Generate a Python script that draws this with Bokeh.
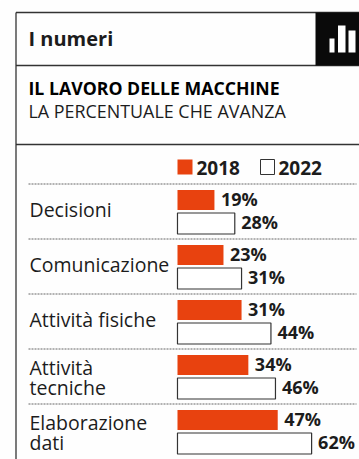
from bokeh.plotting import figure
from bokeh.models import Range1d, ColumnDataSource
from bokeh.core.properties import value
from bokeh.embed import file_html
from bokeh.resources import INLINE

categories = ["Decisioni", "Comunicazione", "Attività fisiche", "Attività\ntecniche", "Elaborazione\ndati"]
values_2018 = [19, 23, 31, 34, 47]
values_2022 = [28, 31, 44, 46, 62]
series_names = ["2018", "2022"]

FONT = "Open Sans"
INK = "#1c1c1c"
RED = "#e8420f"

W, H = 359, 459
ROW_TOP = 183.5
ROW_H = 55
BAR_BASE = 2.65
PX_PER_PCT = 2.26
ZERO_PX = 171

p = figure(width=W, height=H, x_range=Range1d(0, W), y_range=Range1d(H, 0),
           output_backend="svg", toolbar_location=None, min_border=0,
           x_axis_location=None, y_axis_location=None, outline_line_color=None,
           background_fill_color="#fefefe", border_fill_color="#fefefe")
p.grid.visible = False
p.extra_x_ranges["pct"] = Range1d(-ZERO_PX / PX_PER_PCT, (W - ZERO_PX) / PX_PER_PCT)

# Frame and header rules
p.segment([15.5, 15.5, 15.5, 15.5], [12, 65, 144, 12], [W, W, W, 15.5], [12, 65, 144, H],
          line_color="#333333", line_width=1.3)

# Black header tab with the small bar icon
p.quad(left=[315], right=[W], top=[12], bottom=[65], fill_color="#0a0a0a", line_color=None)
p.quad(left=[329, 337.5, 348], right=[334, 345, 355], top=[38, 25, 30], bottom=[52, 52, 52],
       fill_color="white", line_color=None)


def label(x, y, s, size, style="normal", color=INK, range_name=None, x_offset=0):
    kw = {"x_range_name": range_name} if range_name else {}
    p.text([x], [y], text=[s], text_font=value(FONT), text_font_size=size,
           text_font_style=style, text_color=color, text_baseline="middle",
           text_align="left", x_offset=x_offset, **kw)


label(28, 38, "I numeri", "20px", "bold")
label(28, 87, "IL LAVORO DELLE MACCHINE", "17.7px", "bold", "#000000")
label(28, 110, "LA PERCENTUALE CHE AVANZA", "17.9px")

# Legend
p.quad(left=[177], right=[192], top=[159], bottom=[174], fill_color=RED, line_color=None)
p.quad(left=[260], right=[274], top=[159], bottom=[174], fill_color="white", line_color="#333333", line_width=1)
label(196, 167, series_names[0], "19px", "bold")
label(278, 167, series_names[1], "19px", "bold")

# Dotted row separators
n = len(categories)
tops = [ROW_TOP + i * ROW_H for i in range(n)]
p.segment([28] * n, tops, [356] * n, tops, line_color="#666666", line_width=1, line_dash="2 1")

src = ColumnDataSource(dict(
    base=[BAR_BASE] * n,
    v18=values_2018,
    v22=values_2022,
    t18=[t + 6 for t in tops],
    b18=[t + 26 for t in tops],
    t22=[t + 29 for t in tops],
    b22=[t + 50 for t in tops],
    l18=[f"{v}%" for v in values_2018],
    l22=[f"{v}%" for v in values_2022],
    y18=[t + 15 for t in tops],
    y22=[t + 37.5 for t in tops],
))

p.quad(left="base", right="v18", top="t18", bottom="b18", source=src, x_range_name="pct",
       fill_color=RED, line_color=None)
p.quad(left="base", right="v22", top="t22", bottom="b22", source=src, x_range_name="pct",
       fill_color="white", line_color="#333333", line_width=1.2)

for col_x, col_y, col_t in (("v18", "y18", "l18"), ("v22", "y22", "l22")):
    p.text(x=col_x, y=col_y, text=col_t, source=src, x_range_name="pct", x_offset=6.5,
           text_font=value(FONT), text_font_size="18px", text_font_style="bold",
           text_color=INK, text_baseline="middle", text_align="left")

# Category names, one or two lines per row
for top, cat in zip(tops, categories):
    lines = cat.split("\n")
    if len(lines) == 1:
        label(29, top + 25.5, lines[0], "19.5px")
    else:
        label(29, top + 18, lines[0], "19.5px")
        label(29, top + 38, lines[1], "19.5px")

open("out.html", "w").write(file_html(p, INLINE))
